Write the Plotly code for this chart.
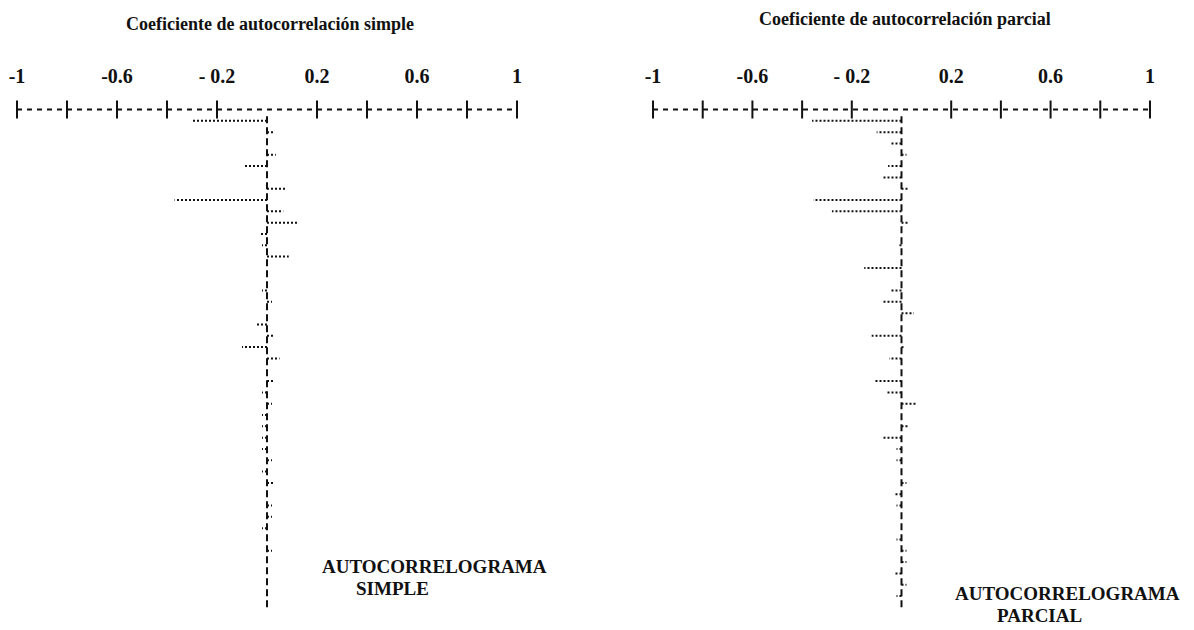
import plotly.graph_objects as go

# ---------------- data ----------------
lags = list(range(1, 45))
acf_simple = [-0.30, 0.03, 0.0, 0.035, -0.09, 0.0, 0.08, -0.37, 0.065, 0.127,
              -0.03, -0.02, 0.087, 0.0, 0.0, -0.02, 0.02, 0.0, -0.04, 0.03,
              -0.10, 0.05, 0.0, 0.03, -0.02, 0.02, -0.02, -0.02, -0.02, -0.02,
              0.02, -0.02, 0.03, 0.0, 0.02, 0.02, -0.02, 0.0, 0.02, 0.0,
              0.0, 0.0, 0.0, 0.0]
pacf = [-0.36, -0.10, -0.047, 0.02, -0.054, -0.08, 0.03, -0.355, -0.28, 0.03,
        0.0, -0.01, 0.0, -0.15, 0.0, -0.045, -0.08, 0.05, 0.0, -0.12,
        0.01, -0.05, 0.0, -0.11, -0.06, 0.06, 0.0, 0.03, -0.077, -0.02,
        -0.02, 0.0, 0.02, -0.03, -0.02, 0.0, 0.0, -0.02, 0.02, 0.02,
        -0.03, 0.02, -0.02, 0.0]
tick_vals = [-1, -0.8, -0.6, -0.4, -0.2, 0.2, 0.4, 0.6, 0.8, 1]
label_vals = [-1, -0.6, -0.2, 0.2, 0.6, 1]
label_text = ["-1", "-0.6", "- 0.2", "0.2", "0.6", "1"]
titles = ["Coeficiente de autocorrelación simple", "Coeficiente de autocorrelación parcial"]

SERIF = "Liberation Serif"
INK = "#111111"

fig = go.Figure()

def add_panel(values, xa, ya):
    xs, ys = [], []
    for lag, v in zip(lags, values):
        if v != 0:
            xs += [0, v, None]
            ys += [lag, lag, None]
    # bars (dotted, like the printed output)
    fig.add_trace(go.Scatter(x=xs, y=ys, mode="lines", xaxis=xa, yaxis=ya,
                             line=dict(color=INK, width=2, dash="2px,2px"),
                             hoverinfo="skip", showlegend=False))
    # zero line
    fig.add_trace(go.Scatter(x=[0, 0], y=[lags[0] - 0.4, lags[-1] + 0.3], mode="lines",
                             xaxis=xa, yaxis=ya,
                             line=dict(color=INK, width=2, dash="7px,4px"),
                             hoverinfo="skip", showlegend=False))
    # dashed axis line
    fig.add_trace(go.Scatter(x=[tick_vals[0], tick_vals[-1]], y=[0, 0], mode="lines",
                             xaxis=xa, yaxis=ya,
                             line=dict(color=INK, width=1.8, dash="5px,5px"),
                             hoverinfo="skip", showlegend=False))
    # tick marks
    fig.add_trace(go.Scatter(x=tick_vals, y=[0] * len(tick_vals), mode="markers",
                             xaxis=xa, yaxis=ya,
                             marker=dict(symbol="line-ns-open", size=13, color=INK,
                                         line=dict(color=INK, width=2)),
                             hoverinfo="skip", showlegend=False))

add_panel(acf_simple, "x", "y")
add_panel(pacf, "x2", "y2")

xcommon = dict(range=[-1.05, 1.05], side="top", showgrid=False, zeroline=False,
               showline=False, ticks="", tickmode="array", tickvals=label_vals,
               ticktext=["<b>" + t + "</b>" for t in label_text],
               tickfont=dict(family=SERIF, size=20, color=INK),
               fixedrange=True)
ycommon = dict(range=[46.0, -1.9], showgrid=False, zeroline=False, showline=False,
               showticklabels=False, ticks="", domain=[0, 1 - 88 / 630], fixedrange=True)

fig.update_layout(
    width=1194, height=630,
    margin=dict(l=0, r=0, t=0, b=0),
    paper_bgcolor="white", plot_bgcolor="white",
    xaxis=dict(domain=[4.5 / 1194, 529.5 / 1194], anchor="y", **xcommon),
    yaxis=dict(anchor="x", **ycommon),
    xaxis2=dict(domain=[640.6 / 1194, 1162.4 / 1194], anchor="y2", **xcommon),
    yaxis2=dict(anchor="x2", **ycommon),
    showlegend=False,
)

ann_font_title = dict(family=SERIF, size=18, color=INK)
ann_font_big = dict(family=SERIF, size=19, color=INK)
annotations = [
    dict(text="<b>" + titles[0] + "</b>", x=270 / 1194, y=1 - 24 / 630, font=ann_font_title),
    dict(text="<b>" + titles[1] + "</b>", x=905 / 1194, y=1 - 19 / 630, font=ann_font_title),
    dict(text="<b>AUTOCORRELOGRAMA</b>", x=434 / 1194, y=1 - 566 / 630, font=ann_font_big),
    dict(text="<b>SIMPLE</b>", x=392 / 1194, y=1 - 588 / 630, font=ann_font_big),
    dict(text="<b>AUTOCORRELOGRAMA</b>", x=1067 / 1194, y=1 - 593 / 630, font=ann_font_big),
    dict(text="<b>PARCIAL</b>", x=1039 / 1194, y=1 - 615 / 630, font=ann_font_big),
]
for a in annotations:
    a.update(xref="paper", yref="paper", xanchor="center", yanchor="middle", showarrow=False)
fig.update_layout(annotations=annotations)

fig.write_html("out.html")
